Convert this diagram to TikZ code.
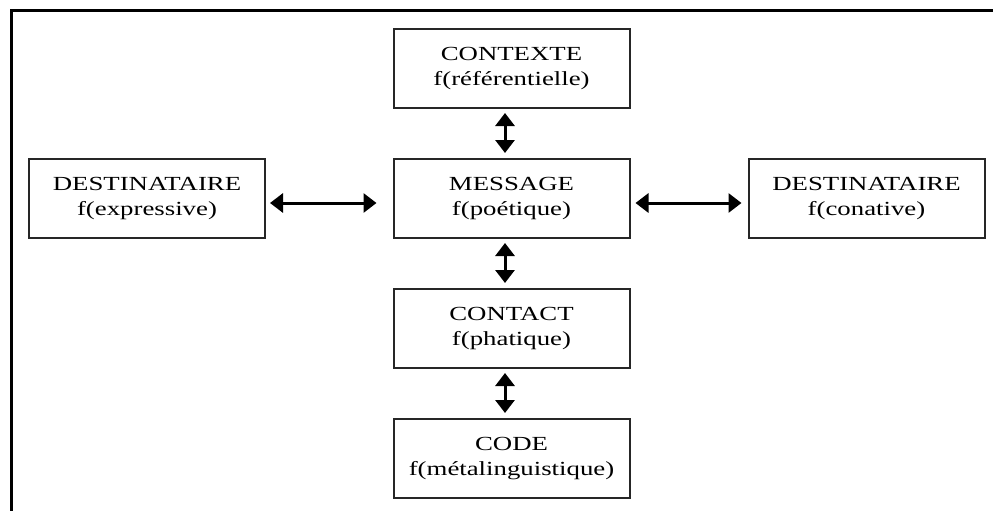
\documentclass[tikz,border=0pt]{standalone}
\usepackage{fontspec}
\setmainfont{Liberation Serif}[FakeStretch=1.34]
\usetikzlibrary{arrows.meta}
\tikzset{
  fbox/.style={draw=black!85, line width=2pt, minimum width=236pt, minimum height=79pt, inner sep=0pt, align=center, font=\fontsize{20}{25}\selectfont},
  dbl/.style={line width=3pt, {Triangle[width=19pt,length=13pt]}-{Triangle[width=19pt,length=13pt]}}
}
\begin{document}
\begin{tikzpicture}[x=1pt,y=-1pt]
\useasboundingbox (0,0) rectangle (993,511);
\draw[line width=3pt] (11,511) -- (11,11) -- (993,11);
\node[fbox] (ctx) at (511.5,68.5) {CONTEXTE\\f(référentielle)};
\node[fbox] (msg) at (511.5,198.5) {MESSAGE\\f(poétique)};
\node[fbox] (cnt) at (511.5,328.5) {CONTACT\\f(phatique)};
\node[fbox] (cod) at (511.5,458.5) {CODE\\f(métalinguistique)};
\node[fbox] (dl) at (147,198.5) {DESTINATAIRE\\f(expressive)};
\node[fbox] (dr) at (866.5,198.5) {DESTINATAIRE\\f(conative)};
\draw[dbl, shorten <=4pt, shorten >=5pt] ([xshift=-6.5pt]ctx.south) -- ([xshift=-6.5pt]msg.north);
\draw[dbl, shorten <=4pt, shorten >=5pt] ([xshift=-6.5pt]msg.south) -- ([xshift=-6.5pt]cnt.north);
\draw[dbl, shorten <=4pt, shorten >=5pt] ([xshift=-6.5pt]cnt.south) -- ([xshift=-6.5pt]cod.north);
\draw[dbl, shorten <=4pt, shorten >=16pt] ([yshift=-4.5pt]dl.east) -- ([yshift=-4.5pt]msg.west);
\draw[dbl, shorten <=5pt, shorten >=6pt] ([yshift=-4.5pt]msg.east) -- ([yshift=-4.5pt]dr.west);
\end{tikzpicture}
\end{document}
